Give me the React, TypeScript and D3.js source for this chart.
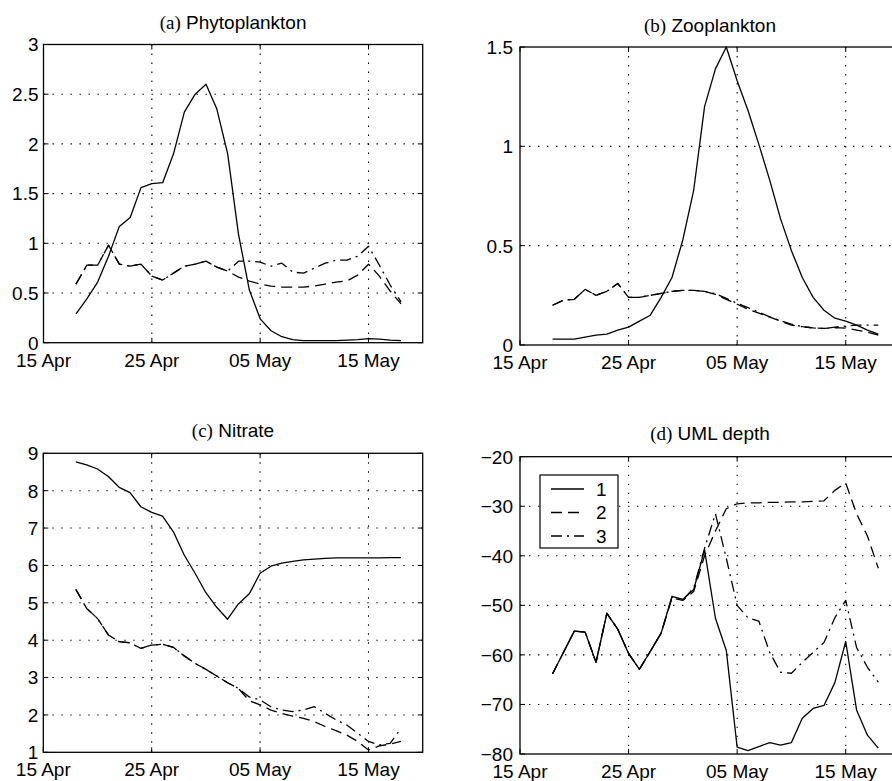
import React from 'react'
import * as d3 from 'd3'

// days after 15 Apr, one model output per day
const days = [3, 4, 5, 6, 7, 8, 9, 10, 11, 12, 13, 14, 15, 16, 17, 18, 19, 20, 21, 22, 23, 24, 25, 26, 27, 28, 29, 30, 31, 32, 33]
const dayTicks = [0, 10, 20, 30]
const dayLabels = ['15 Apr', '25 Apr', '05 May', '15 May']

const phyto1 = [0.29, 0.44, 0.61, 0.87, 1.17, 1.26, 1.56, 1.60, 1.61, 1.90, 2.32, 2.50, 2.60, 2.35, 1.90, 1.09, 0.53, 0.24, 0.12, 0.06, 0.03, 0.02, 0.02, 0.02, 0.02, 0.025, 0.03, 0.04, 0.035, 0.025, 0.02]
const phyto2 = [0.59, 0.78, 0.78, 0.98, 0.79, 0.77, 0.79, 0.67, 0.63, 0.70, 0.77, 0.79, 0.82, 0.76, 0.72, 0.66, 0.62, 0.59, 0.57, 0.56, 0.56, 0.56, 0.57, 0.59, 0.61, 0.62, 0.68, 0.79, 0.67, 0.52, 0.39]
const phyto3 = [0.59, 0.78, 0.78, 0.98, 0.79, 0.77, 0.79, 0.67, 0.63, 0.70, 0.77, 0.79, 0.82, 0.76, 0.72, 0.82, 0.82, 0.81, 0.77, 0.80, 0.71, 0.70, 0.75, 0.80, 0.83, 0.83, 0.87, 0.97, 0.78, 0.58, 0.41]

const zoo1 = [0.03, 0.03, 0.03, 0.04, 0.05, 0.055, 0.075, 0.09, 0.12, 0.15, 0.24, 0.34, 0.53, 0.78, 1.20, 1.39, 1.5, 1.33, 1.18, 1.01, 0.83, 0.635, 0.475, 0.34, 0.24, 0.175, 0.135, 0.12, 0.10, 0.075, 0.055]
const zoo2 = [0.20, 0.225, 0.23, 0.28, 0.25, 0.27, 0.31, 0.24, 0.24, 0.25, 0.26, 0.27, 0.275, 0.275, 0.27, 0.255, 0.23, 0.205, 0.18, 0.16, 0.14, 0.12, 0.10, 0.092, 0.086, 0.084, 0.087, 0.085, 0.075, 0.065, 0.05]
const zoo3 = [0.20, 0.225, 0.23, 0.28, 0.25, 0.27, 0.31, 0.24, 0.24, 0.25, 0.26, 0.27, 0.275, 0.275, 0.27, 0.258, 0.235, 0.21, 0.188, 0.165, 0.142, 0.122, 0.105, 0.092, 0.086, 0.083, 0.09, 0.095, 0.10, 0.10, 0.10]

const nitrate1 = [8.77, 8.69, 8.58, 8.38, 8.09, 7.95, 7.57, 7.42, 7.32, 6.90, 6.28, 5.79, 5.27, 4.88, 4.56, 4.97, 5.24, 5.79, 5.98, 6.06, 6.11, 6.15, 6.17, 6.19, 6.20, 6.20, 6.20, 6.20, 6.20, 6.21, 6.21]
const nitrate2 = [5.36, 4.85, 4.58, 4.14, 3.96, 3.93, 3.78, 3.87, 3.89, 3.81, 3.58, 3.38, 3.22, 3.04, 2.86, 2.71, 2.38, 2.27, 2.13, 2.04, 1.97, 1.91, 1.82, 1.69, 1.58, 1.46, 1.29, 1.06, 1.17, 1.22, 1.29]
const nitrate3 = [5.36, 4.85, 4.58, 4.14, 3.96, 3.93, 3.78, 3.87, 3.89, 3.81, 3.58, 3.38, 3.22, 3.04, 2.86, 2.71, 2.48, 2.40, 2.22, 2.13, 2.09, 2.13, 2.22, 2.04, 1.87, 1.73, 1.51, 1.29, 1.20, 1.24, 1.64]

const uml1 = [-63.8, -59.5, -55.2, -55.4, -61.5, -51.6, -54.8, -59.7, -62.9, -59.3, -55.6, -48.2, -48.8, -46.8, -38.8, -52.6, -59.1, -78.6, -79.3, -78.5, -77.7, -78.2, -77.7, -72.8, -70.8, -70.2, -65.6, -57.3, -71.1, -76.2, -78.8]
const uml2 = [-63.8, -59.5, -55.2, -55.4, -61.5, -51.6, -54.8, -59.7, -62.9, -59.3, -55.6, -48.5, -49.0, -47.2, -40.0, -35.0, -30.5, -29.5, -29.3, -29.3, -29.2, -29.2, -29.1, -29.1, -29.0, -28.9, -26.8, -25.3, -31.5, -36.0, -42.5]
const uml3 = [-63.8, -59.5, -55.2, -55.4, -61.5, -51.6, -54.8, -59.7, -62.9, -59.3, -55.6, -48.3, -48.9, -46.5, -38.5, -31.5, -40.5, -50.0, -52.5, -53.2, -59.5, -63.5, -63.7, -61.5, -59.5, -57.5, -52.5, -49.0, -58.5, -62.5, -65.5]

const legendNames = ['1', '2', '3']
const dashes = [null, '11 6', '11 5 2 5']

const sans = 'Liberation Sans, Arial, Helvetica, sans-serif'
const serif = 'Liberation Serif, Times New Roman, serif'
const fs = 19

const Panel = (props) => {
  const { box, yDomain, yTicks, letter, name, titleY, gap, series, legend } = props
  const x = d3.scaleLinear().domain([0, 35]).range([box.x0, box.x1])
  const y = d3.scaleLinear().domain(yDomain).range([box.y1, box.y0])
  const fmt = d3.format('')
  const line = d3.line<number>()
    .x((_, i) => x(days[i]))
    .y(v => y(v))
  const cx = (box.x0 + box.x1) / 2
  const dot = '1.4 7.6'

  return (
    <g>
      <text x={cx} y={titleY} textAnchor="middle" fontSize={fs}>
        <tspan fontFamily={serif}>({letter})</tspan>
        <tspan fontFamily={sans}> {name}</tspan>
      </text>
      {/* grid */}
      {dayTicks.filter(t => t > 0).map(t => (
        <line key={'gx' + t} x1={x(t)} x2={x(t)} y1={box.y0} y2={box.y1}
          stroke="#000" strokeWidth={1.1} strokeDasharray={dot} />
      ))}
      {yTicks.slice(1, -1).map(t => (
        <line key={'gy' + t} x1={box.x0} x2={box.x1} y1={y(t)} y2={y(t)}
          stroke="#000" strokeWidth={1.1} strokeDasharray={dot} />
      ))}
      {/* ticks */}
      {dayTicks.map(t => (
        <g key={'tx' + t}>
          <line x1={x(t)} x2={x(t)} y1={box.y1} y2={box.y1 - 5} stroke="#000" />
          <line x1={x(t)} x2={x(t)} y1={box.y0} y2={box.y0 + 5} stroke="#000" />
        </g>
      ))}
      {yTicks.map(t => (
        <g key={'ty' + t}>
          <line x1={box.x0} x2={box.x0 + 5} y1={y(t)} y2={y(t)} stroke="#000" />
          <line x1={box.x1} x2={box.x1 - 5} y1={y(t)} y2={y(t)} stroke="#000" />
        </g>
      ))}
      {/* data */}
      {series.map((s, i) => (
        <path key={'s' + i} d={line(s) || ''} fill="none" stroke="#000" strokeWidth={1.3}
          strokeDasharray={dashes[i] || undefined} strokeLinejoin="round" />
      ))}
      <rect x={box.x0} y={box.y0} width={box.x1 - box.x0} height={box.y1 - box.y0}
        fill="none" stroke="#000" strokeWidth={1.3} />
      {/* labels */}
      {dayTicks.map((t, i) => (
        <text key={'lx' + t} x={x(t)} y={box.y1 + 24} textAnchor="middle"
          fontFamily={sans} fontSize={fs}>{dayLabels[i]}</text>
      ))}
      {yTicks.map(t => (
        <text key={'ly' + t} x={box.x0 - gap} y={y(t)} dy="0.36em" textAnchor="end"
          fontFamily={sans} fontSize={fs}>{fmt(t)}</text>
      ))}
      {legend && (
        <g>
          <rect x={legend.x} y={legend.y} width={78} height={73} fill="#fff" stroke="#000" strokeWidth={1.2} />
          {legendNames.map((n, i) => (
            <g key={'lg' + n}>
              <line x1={legend.x + 11} x2={legend.x + 44} y1={legend.y + 14 + i * 23.5} y2={legend.y + 14 + i * 23.5}
                stroke="#000" strokeWidth={1.3} strokeDasharray={dashes[i] || undefined} />
              <text x={legend.x + 56} y={legend.y + 14 + i * 23.5} dy="0.36em"
                fontFamily={sans} fontSize={fs}>{n}</text>
            </g>
          ))}
        </g>
      )}
    </g>
  )
}

export default function App() {
  return (
    <svg width={892} height={781} style={{ position: 'absolute', left: 0, top: 0, background: '#fff' }}>
      <rect x={0} y={0} width={892} height={781} fill="#fff" />
      <Panel box={{ x0: 43.5, x1: 422.7, y0: 44.5, y1: 342.7 }} yDomain={[0, 3]}
        yTicks={[0, 0.5, 1, 1.5, 2, 2.5, 3]} letter="a" name="Phytoplankton" titleY={29}
        gap={5} series={[phyto1, phyto2, phyto3]} />
      <Panel box={{ x0: 520, x1: 900, y0: 47, y1: 345 }} yDomain={[0, 1.5]}
        yTicks={[0, 0.5, 1, 1.5]} letter="b" name="Zooplankton" titleY={32}
        gap={7} series={[zoo1, zoo2, zoo3]} />
      <Panel box={{ x0: 43.3, x1: 422.7, y0: 453.3, y1: 752.3 }} yDomain={[1, 9]}
        yTicks={[1, 2, 3, 4, 5, 6, 7, 8, 9]} letter="c" name="Nitrate" titleY={437}
        gap={5} series={[nitrate1, nitrate2, nitrate3]} />
      <Panel box={{ x0: 520, x1: 900, y0: 456.7, y1: 754 }} yDomain={[-80, -20]}
        yTicks={[-80, -70, -60, -50, -40, -30, -20]} letter="d" name="UML depth" titleY={440}
        gap={7} series={[uml1, uml2, uml3]} legend={{ x: 540, y: 475 }} />
    </svg>
  )
}
